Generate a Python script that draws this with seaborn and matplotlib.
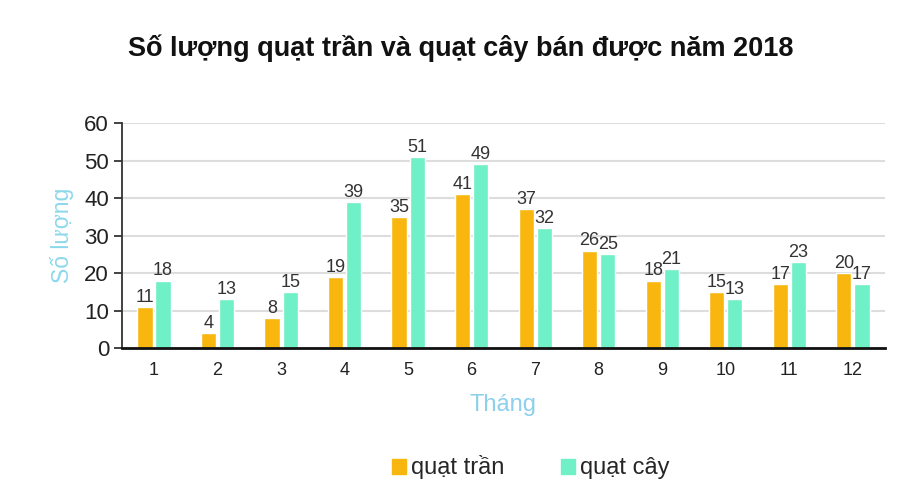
import pandas as pd
import seaborn as sns
import matplotlib.pyplot as plt
from matplotlib.patches import Patch

thang = [1, 2, 3, 4, 5, 6, 7, 8, 9, 10, 11, 12]
quat_tran = [11, 4, 8, 19, 35, 41, 37, 26, 18, 15, 17, 20]
quat_cay = [18, 13, 15, 39, 51, 49, 32, 25, 21, 13, 23, 17]
series = ["quạt trần", "quạt cây"]
colors = ["#F8B60F", "#6FF0C6"]

df = pd.DataFrame({
    "Tháng": thang * 2,
    "Số lượng": quat_tran + quat_cay,
    "loai": [series[0]] * 12 + [series[1]] * 12,
})

sns.set_style("white")
plt.rcParams['font.family'] = ['Liberation Sans', 'DejaVu Sans']

fig = plt.figure(figsize=(8.99, 5.01), dpi=100)
ax = fig.add_axes([0.136, 0.305, 0.848, 0.449])
sns.barplot(data=df, x="Tháng", y="Số lượng", hue="loai", palette=colors,
            saturation=1, width=0.57, gap=0.16, ax=ax, legend=False)

for cont in ax.containers:
    ax.bar_label(cont, fontsize=13, color="#333333", padding=1)

ax.set_ylim(0, 60)
ax.set_yticks(range(0, 61, 10))
ax.yaxis.grid(True, color="#DDDDDD", linewidth=1.5)
ax.set_axisbelow(True)
ax.tick_params(axis="y", labelsize=16, colors="#222222", length=6, width=1.2, left=True, direction="out")
ax.tick_params(axis="x", labelsize=13, colors="#222222", length=0, pad=10)
for s in ["top", "right"]:
    ax.spines[s].set_visible(False)
ax.spines["left"].set_color("#333333")
ax.spines["left"].set_linewidth(1.3)
ax.spines["bottom"].set_color("#111111")
ax.spines["bottom"].set_linewidth(2)

ax.set_xlabel("Tháng", fontsize=17, color="#8DD0EC", labelpad=11)
ax.set_ylabel("Số lượng", fontsize=16.5, color="#8CD8EA", labelpad=7)

fig.text(0.513, 0.904, "Số lượng quạt trần và quạt cây bán được năm 2018",
         ha="center", va="center", fontsize=19.5, fontweight="bold", color="#111111")

handles = [Patch(color=c, label=s) for c, s in zip(colors, series)]
fig.legend(handles=handles, loc="center", bbox_to_anchor=(0.59, 0.067), ncol=2,
           frameon=False, fontsize=17, handlelength=0.6, handleheight=0.6,
           handletextpad=0.2, columnspacing=2.4)

plt.savefig("out.png", dpi=100)
